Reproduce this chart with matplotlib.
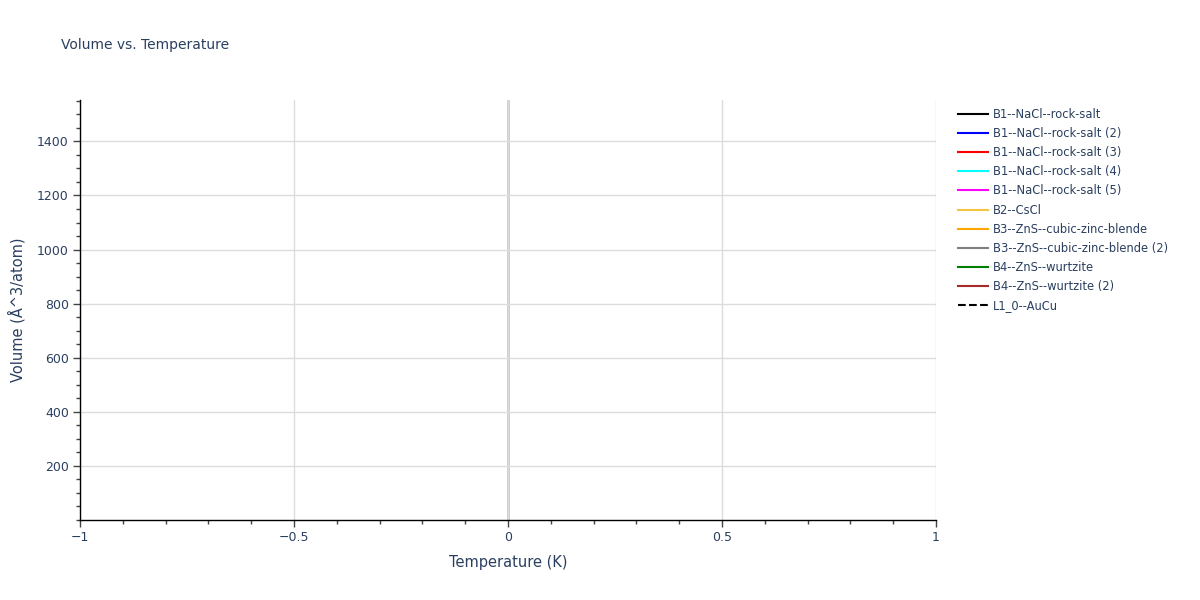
import matplotlib
matplotlib.use("Agg")
import numpy as np
from matplotlib import pyplot as plt
from matplotlib.ticker import MultipleLocator

# structures in the legend (no data points are drawn in the reference)
structures = [
    "B1--NaCl--rock-salt",
    "B1--NaCl--rock-salt (2)",
    "B1--NaCl--rock-salt (3)",
    "B1--NaCl--rock-salt (4)",
    "B1--NaCl--rock-salt (5)",
    "B2--CsCl",
    "B3--ZnS--cubic-zinc-blende",
    "B3--ZnS--cubic-zinc-blende (2)",
    "B4--ZnS--wurtzite",
    "B4--ZnS--wurtzite (2)",
    "L1_0--AuCu",
]
colors = ["black", "blue", "red", "cyan", "magenta", "#f5c342", "orange",
          "grey", "green", "brown", "black"]
dashes = ["solid"] * 10 + ["dashed"]

# empty series: temperature (K) and volume per structure
temperature = {s: [] for s in structures}
volume = {s: [] for s in structures}

x_range = (-1, 1)
y_range = (0, 1553)

txt = "#2a3f5f"
plt.rcParams["font.family"] = ["DejaVu Sans"]

fig = plt.figure(figsize=(12, 6), dpi=100)
ax = fig.add_axes([80 / 1200, 1 - 520 / 600, 856 / 1200, 420 / 600])

for s, c, d in zip(structures, colors, dashes):
    ax.plot(temperature[s], volume[s], color=c, linestyle=d, lw=1.5, label=s)

ax.set_xlim(*x_range)
ax.set_ylim(*y_range)

ax.xaxis.set_major_locator(MultipleLocator(0.5))
ax.xaxis.set_minor_locator(MultipleLocator(0.1))
ax.yaxis.set_major_locator(MultipleLocator(200))
ax.yaxis.set_minor_locator(MultipleLocator(50))
ax.set_yticks([200, 400, 600, 800, 1000, 1200, 1400])
ax.set_xticks([-1, -0.5, 0, 0.5, 1])
ax.set_xticklabels(["\u22121", "\u22120.5", "0", "0.5", "1"])

ax.grid(True, which="major", color="#dcdcdc", lw=1)
ax.axvline(0, color="#c8c8c8", lw=2, zorder=1)

for side in ["top", "right"]:
    ax.spines[side].set_visible(False)
for side in ["left", "bottom"]:
    ax.spines[side].set_color("black")
    ax.spines[side].set_linewidth(1)

ax.tick_params(which="major", length=5, width=1, color="#444444",
               labelsize=9, labelcolor=txt, pad=3)
ax.tick_params(which="minor", length=3, width=1, color="#444444")

ax.set_xlabel("Temperature (K)", fontsize=10.5, color=txt, labelpad=8)
ax.set_ylabel("Volume (Å^3/atom)", fontsize=10.5, color=txt, labelpad=8)

fig.text(61 / 1200, 1 - 45 / 600, "Volume vs. Temperature", fontsize=10,
         color=txt, va="center", ha="left")

leg = ax.legend(loc="upper left", bbox_to_anchor=(958 / 1200, 1 - 108 / 600),
                bbox_transform=fig.transFigure, frameon=False, fontsize=8.3,
                handlelength=2.6, handletextpad=0.43, labelspacing=0.53,
                borderpad=0, borderaxespad=0)
for t in leg.get_texts():
    t.set_color(txt)

fig.savefig("out.png", dpi=100)
